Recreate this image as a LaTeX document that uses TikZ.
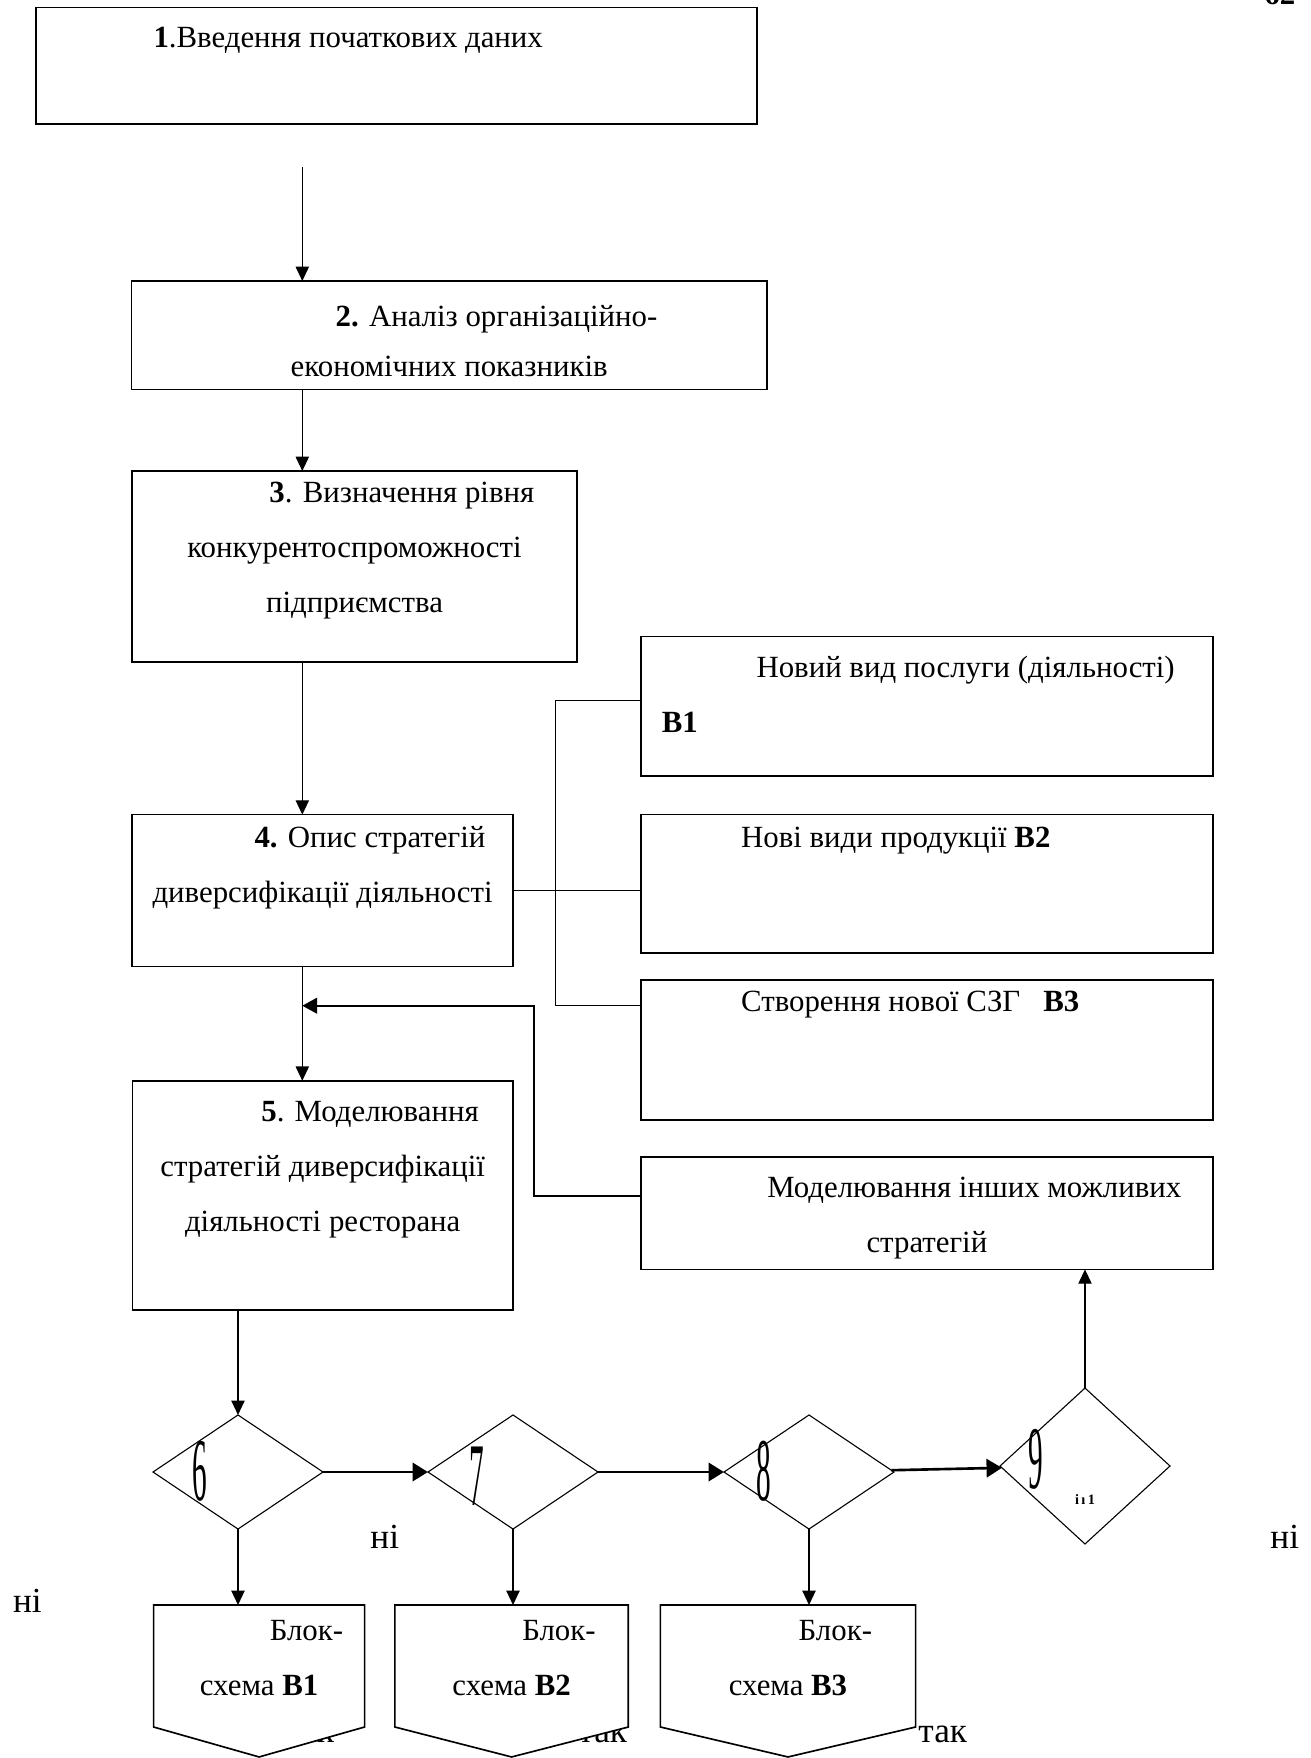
\documentclass[tikz,border=0pt]{standalone}
\usepackage{fontspec}
\setmainfont{Liberation Serif}
\usepackage{graphicx}
\usetikzlibrary{graphs, positioning, shapes.geometric, arrows.meta}

\newcommand{\firstgap}{\hspace*{43pt}}
\newcommand{\tallnum}[1]{\scalebox{0.95}[2.9]{#1}}

\begin{document}
\begin{tikzpicture}[x=0.4541pt, y=-0.4541pt,
    >={Triangle[length=6pt 0.83, width=3.7pt 3.83]},
    box/.style={draw, line width=0.75pt, inner sep=0pt, outer sep=0pt},
    check/.style={draw, diamond, line width=0.5pt, inner sep=0pt, outer sep=0pt,
                  minimum width=77.2pt, minimum height=51.8pt},
    chart/.style={inner sep=0pt, outer sep=0pt, minimum height=55.4pt},
    txt/.style={inner sep=0pt, align=center, font=\fontsize{14}{25}\selectfont},
    answer/.style={inner sep=0pt, font=\fontsize{16}{16}\selectfont},
    link/.style={line width=0.6pt}]
    \useasboundingbox (0,0) rectangle (1311,1758);
    \clip (0,0) rectangle (1311,1758);

    \node[answer, font=\fontsize{14}{14}\selectfont\bfseries, anchor=base west] (Page) at (1264,4) {62};

    \node[box, minimum width=327.4pt, minimum height=53.1pt]  (Step 1) at (396.2,65.8) {};
    \node[box, minimum width=288.4pt, minimum height=49.2pt]  (Step 2) at (449.2,335.2) {};
    \node[box, minimum width=202.3pt, minimum height=86.7pt]  (Step 3) at (354.5,566.5) {};
    \node[box, minimum width=173.2pt, minimum height=68.9pt]  (Step 4) at (322.6,890.5) {};
    \node[box, minimum width=172.6pt, minimum height=104.1pt] (Step 5) at (322.7,1195.4) {};

    \node[box, minimum width=259.9pt, minimum height=63.4pt] (Variant 1)  at (926.9,706.2) {};
    \node[box, minimum width=259.9pt, minimum height=63pt]   (Variant 2)  at (926.9,883.9) {};
    \node[box, minimum width=259.9pt, minimum height=63.6pt] (Variant 3)  at (926.9,1050) {};
    \node[box, minimum width=259.9pt, minimum height=50.9pt] (Other Ways) at (926.9,1213.3) {};

    \node[txt, below right=9pt and 53.3pt of Step 1.north west] (Step 1 text) {\textbf{1}.Введення початкових даних};
    \node[txt, below=11pt of Step 2.north] (Step 2 text) {\firstgap\textbf{2.} Аналіз організаційно-\\[-2.5pt] економічних показників};
    \node[txt, below=4.9pt of Step 3.north] (Step 3 text) {\firstgap\textbf{3}. Визначення рівня\\ конкурентоспроможності\\ підприємства};
    \node[txt, below=5.2pt of Step 4.north] (Step 4 text) {\firstgap\textbf{4.} Опис стратегій\\ диверсифікації діяльності};
    \node[txt, below=9.2pt of Step 5.north] (Step 5 text) {\firstgap\textbf{5}. Моделювання\\ стратегій диверсифікації\\ діяльності ресторана};

    \node[txt, align=left, below right=8.6pt and 9.4pt of Variant 1.north west] (Variant 1 text) {\firstgap Новий вид послуги (діяльності)\\ \textbf{B1}};
    \node[txt, below right=5.7pt and 45.4pt of Variant 2.north west] (Variant 2 text) {Нові види продукції \textbf{B2}};
    \node[txt, below right=4.8pt and 45.4pt of Variant 3.north west] (Variant 3 text) {Створення нової СЗГ \ \ \textbf{B3}};
    \node[txt, below=8.6pt of Other Ways.north] (Other Ways text) {\firstgap Моделювання інших можливих\\ стратегій};

    \node[check]                        (Check 6) at (238,1472) {};
    \node[check]                        (Check 7) at (513,1472) {};
    \node[check]                        (Check 8) at (809,1472) {};
    \node[check, minimum height=70.8pt] (Check 9) at (1085,1466) {};

    \node[txt] (Digit 6) at ([shift={(-17.3pt,0.5pt)}]Check 6.center) {\tallnum{6}};
    \node[txt] (Digit 7) at ([shift={(-16.6pt,-2.1pt)}]Check 7.center) {\tallnum{7}};
    \node[txt] (Digit 8) at ([shift={(-20.4pt,0.5pt)}]Check 8.center) {\tallnum{8}};
    \node[txt] (Digit 9) at ([shift={(-22.4pt,3.2pt)}]Check 9.center) {\tallnum{9}};
    \node[inner sep=0pt, font=\fontsize{6.5}{6.5}\selectfont\bfseries] (Check 9 mark) at ([yshift=-15.4pt]Check 9.center) {i\,ı\,1};

    \node[chart, minimum width=95.8pt]  (Chart 1) at (259.1,1666) {};
    \node[chart, minimum width=106pt]   (Chart 2) at (511.6,1666) {};
    \node[chart, minimum width=115.9pt] (Chart 3) at (788,1666) {};

    \node[answer, anchor=base west] (No 1)  at (12.7,1612.7) {ні};
    \node[answer, anchor=base west] (No 6)  at (370,1548) {ні};
    \node[answer, anchor=base west] (No 9)  at (1270,1548) {ні};
    \node[answer, anchor=base west] (Yes 1) at (285,1742) {так};
    \node[answer, anchor=base west] (Yes 2) at (578,1742) {так};
    \node[answer, anchor=base west] (Yes 3) at (918,1742) {так};

    % off-page connectors
    \draw[line width=0.75pt, fill=white] (Chart 1.north west) -- (Chart 1.north east) -- (Chart 1.south east)
        -- ([yshift=-13.6pt]Chart 1.south) -- (Chart 1.south west) -- cycle;
    \draw[line width=0.75pt, fill=white] (Chart 2.north west) -- (Chart 2.north east) -- (Chart 2.south east)
        -- ([yshift=-13.6pt]Chart 2.south) -- (Chart 2.south west) -- cycle;
    \draw[line width=0.75pt, fill=white] (Chart 3.north west) -- (Chart 3.north east) -- (Chart 3.south east)
        -- ([yshift=-13.6pt]Chart 3.south) -- (Chart 3.south west) -- cycle;

    \node[txt, below=6.6pt of Chart 1.north] (Chart 1 text) {\firstgap Блок-\\ схема \textbf{B1}};
    \node[txt, below=6.6pt of Chart 2.north] (Chart 2 text) {\firstgap Блок-\\ схема \textbf{B2}};
    \node[txt, below=6.6pt of Chart 3.north] (Chart 3 text) {\firstgap Блок-\\ схема \textbf{B3}};

    \coordinate (Step 1 out) at (302.3,166.7);
    \coordinate (Bus top)    at (555.8,700.4);
    \coordinate (Bus bottom) at (555.8,1005.7);
    \coordinate (Loop)       at (533.9,1195.7);

    \draw[link, ->] (Step 1 out) -- (Step 1 out |- Step 2.north);
    \draw[link, ->] (Step 1 out |- Step 2.south) -- (Step 1 out |- Step 3.north);
    \draw[link, ->] (Step 1 out |- Step 3.south) -- (Step 1 out |- Step 4.north);
    \draw[link, ->] (Step 1 out |- Step 4.south) -- (Step 1 out |- Step 5.north);

    \draw[link] (Step 4.east) -- (Step 4.east -| Variant 2.west);
    \draw[link] (Variant 1.west |- Bus top) -- (Bus top) -- (Bus bottom) -- (Bus bottom -| Variant 3.west);
    \draw[link, line width=0.9pt, ->] (Other Ways.west |- Loop) -- (Loop) |- (Step 1 out |- Bus bottom);

    \draw[link, ->] (Check 6.north |- Step 5.south) -- (Check 6.north);
    \graph[edges={line width=1.2pt}]{
        (Check 6) -> (Check 7) -> (Check 8) -> (Check 9);
    };
    \draw[link, ->] (Check 6.south) -- (Check 6.south |- Chart 1.north);
    \draw[link, ->] (Check 7.south) -- (Check 7.south |- Chart 2.north);
    \draw[link, ->] (Check 8.south) -- (Check 8.south |- Chart 3.north);
    \draw[link, ->] (Check 9.north) -- (Check 9.north |- Other Ways.south);
\end{tikzpicture}
\end{document}
